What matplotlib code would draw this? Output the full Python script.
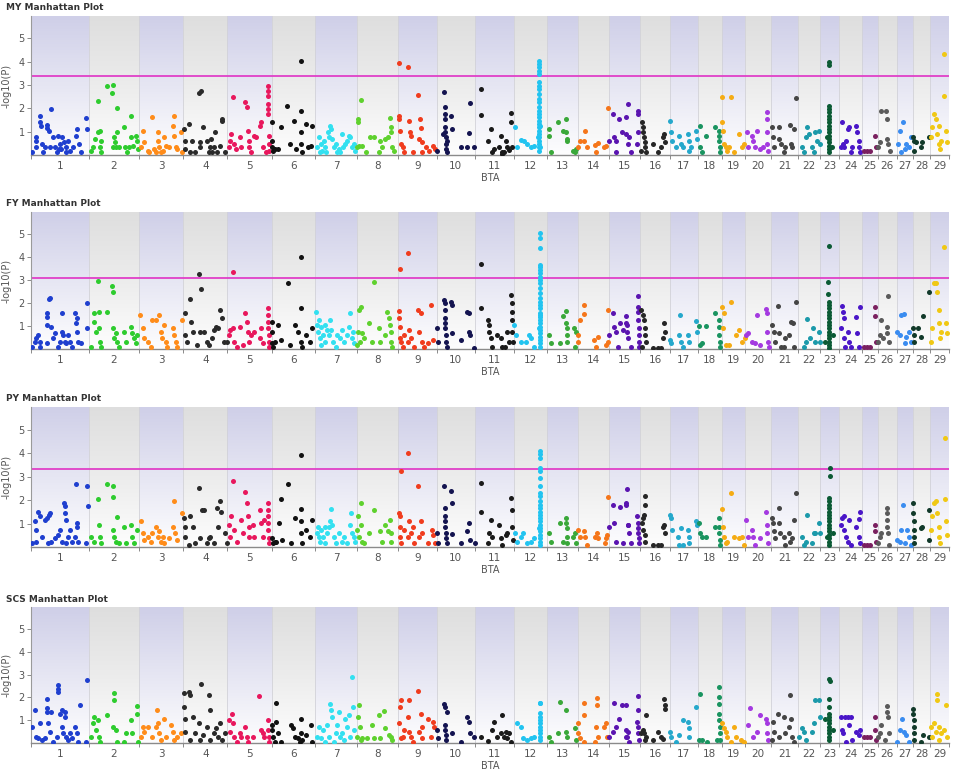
import numpy as np
import matplotlib
matplotlib.use("Agg")
import matplotlib.pyplot as plt
from matplotlib.colors import LinearSegmentedColormap

# chromosomes (BTA) and their lengths in Mb
bta = list(range(1, 30))
bta_len = [158.3, 137.1, 121.4, 120.7, 121.2, 119.5, 112.6, 113.4, 105.7, 104.3,
           107.3, 91.2, 84.2, 84.6, 85.3, 81.7, 75.2, 66.0, 64.1, 72.0,
           71.6, 61.4, 52.5, 62.7, 42.9, 51.7, 45.4, 46.3, 51.5]
bta_colors = ["#1f3fcf", "#2ecc2e", "#ff8c1a", "#2a2a2a", "#e8175d", "#111111",
              "#33e0f0", "#5fd12e", "#f03c1e", "#141450", "#1a1a1a", "#22c4f0",
              "#3aa83a", "#f5761a", "#5a14b0", "#262626", "#25a8cc", "#1a9460",
              "#f5ac14", "#a43ae0", "#454545", "#1c9aaa", "#0b5a35", "#4a16c8",
              "#7a2060", "#5a5a5a", "#3a8cf0", "#123a2a", "#f0c814"]

traits = ["MY", "FY", "PY", "SCS"]
thresholds = [3.4, 3.1, 3.3, None]

# (position in Mb, -log10(P)) per chromosome
my_pts = {
    1: [(2,.11),(14,.79),(14,.61),(15,.33),(25,1.69),(25,1.4),(26,1.26),(29,.47),(38,.33),(43,1.3),(45,1.16),(49,1.01),(52,.33),(56,1.97),(61,.76),(65,.33),(70,.11),(75,.83),(79,.47),(82,.26),(86,.76),(91,.54),(95,.33),(102,.61),(106,.19),(115,.33),(123,.83),(127,1.11),(132,.47),(136,.11),(150,1.59),(154,1.11),(34,.11),(77,.26),(97,.11)],
    2: [(5,.19),(10,.33),(16,.69),(24,2.33),(25,.97),(30,.33),(31,1.04),(33,.61),(49,2.97),(65,3.0),(63,2.64),(69,.76),(71,.54),(74,.33),(78,2.01),(76,.97),(83,.33),(95,1.19),(98,.33),(105,.11),(110,.33),(115,1.69),(116,.76),(122,.4),(128,.83),(133,.61),(135,.26),(33,.11),(67,.33)],
    3: [(5,.33),(10,1.04),(15,.54),(24,.19),(37,1.61),(42,.26),(46,.11),(51,.97),(53,.61),(55,.33),(60,.11),(69,.76),(74,.4),(83,.33),(92,1.26),(96,1.69),(95,.83),(101,.33),(105,.26),(115,.97),(117,.11),(28,.11),(65,.19)],
    4: [(3,1.11),(4,.61),(5,.26),(15,1.33),(19,.11),(24,.61),(33,.11),(42,2.64),(49,2.73),(45,.54),(55,1.19),(65,.61),(69,.11),(72,.33),(76,.69),(83,.33),(87,.97),(92,.11),(101,.4),(105,1.54),(105,1.44),(115,.11),(46,.33),(79,.11)],
    5: [(4,.33),(7,.61),(10,.9),(15,2.47),(19,.47),(24,.26),(33,.76),(37,.33),(48,2.26),(53,2.04),(55,1.04),(58,.61),(60,.33),(65,.11),(74,.83),(78,.76),(88,1.26),(92,1.4),(97,.33),(105,.11),(110,2.97),(110,2.76),(111,2.54),(111,2.19),(112,1.97),(112,1.76),(113,.83),(113,.47),(115,.19)],
    6: [(0.5,1.43),(2,.61),(2,.33),(4,.19),(8,.26),(17,.26),(26,1.19),(42,2.09),(49,.47),(60,1.44),(67,.26),(81,4.01),(81,1.9),(81,.97),(81,.47),(84,.11),(93,1.33),(99,.33),(108,.4),(111,1.26)],
    7: [(5,.33),(9,.76),(14,.47),(18,.19),(23,.61),(27,.33),(34,.97),(36,.76),(39,1.26),(43,1.11),(45,.69),(50,.33),(55,.47),(59,.11),(64,.26),(73,.9),(75,.33),(82,.47),(86,.61),(91,.83),(95,.76),(100,.33),(105,.47),(107,.19),(12,.11),(30,.11),(68,.11)],
    8: [(2,.33),(4,1.54),(4,1.4),(6,.4),(11,2.36),(15,.4),(25,.11),(38,.76),(47,.76),(61,.11),(65,.61),(70,.33),(79,.69),(85,.76),(91,1.59),(93,1.19),(95,.97),(97,.33),(102,.19)],
    9: [(4,3.93),(28,3.79),(4,1.69),(4,1.54),(5,1.04),(8,.47),(13,.33),(17,.11),(31,1.47),(34,.97),(35,.83),(40,.11),(54,2.59),(58,.69),(61,1.54),(63,1.16),(65,.54),(67,.11),(76,.33),(85,.19),(95,.4),(101,.26)],
    10: [(2,.19),(20,2.69),(22,2.04),(22,1.76),(23,1.54),(23,1.19),(24,.97),(25,.76),(25,.47),(26,.26),(27,.11),(40,1.69),(43,1.11),(67,.33),(84,.33),(88,.93),(91,2.21),(102,.33),(18,.9),(29,.61)],
    11: [(16,2.83),(16,1.71),(35,.61),(44,1.11),(48,.11),(53,.26),(66,.33),(71,.83),(74,.11),(75,.05),(80,.11),(85,.61),(89,.33),(94,.21),(98,1.79),(100,1.4),(103,.33)],
    12: [(4,1.21),(8,.33),(19,.64),(28,.61),(37,.47),(46,.33),(55,.4),
         (68,4.04),(68,3.9),(68,3.76),(68,3.61),(68,3.47),(68,3.11),(68,2.97),(69,2.83),(68,2.61),(69,2.4),(68,2.26),(69,2.04),(68,1.9),(69,1.76),(68,1.61),(69,1.47),(68,1.33),(69,1.19),(68,1.04),(69,.9),(68,.76),(69,.61),(68,.47),(69,.33),(68,.19),(71,1.26),(67,.76),(72,.33)],
    13: [(6,1.11),(6,.83),(9,.11),(29,1.4),(43,1.04),(52,1.54),(52,.97),(54,.69),(55,.61),(70,.19),(75,.11),(79,.26)],
    14: [(1,.33),(4,.61),(17,.61),(20,1.04),(25,.33),(45,.44),(49,.11),(54,.5),(72,.33),(76,.4),(83,2.01)],
    15: [(1,.61),(10,1.76),(15,.76),(19,.61),(28,1.54),(35,.97),(46,1.61),(51,2.19),(56,.76),(60,.11),(19,.11),(78,1.9),(78,1.76),(78,.97),(76,.47),(46,.9),(51,.47)],
    16: [(5,1.4),(7,1.19),(7,.97),(10,.76),(12,.54),(14,.33),(3,.19),(16,.11),(35,.47),(48,.11),(57,.33),(62,.76),(66,.9),(69,.54)],
    17: [(1,1.44),(3,.97),(5,.61),(16,.33),(25,.83),(30,.47),(35,.33),(48,.9),(51,.61),(53,.19),(57,.33),(71,1.04),(74,.69)],
    18: [(6,1.26),(8,.33),(13,.11),(22,.83),(49,1.19),(58,1.04),(60,.83),(60,.61),(61,.33),(61,.11)],
    19: [(0.5,2.47),(25,2.47),(2,1.4),(5,1.04),(6,.47),(11,.33),(15,.19),(20,.33),(34,.11),(47,.9),(56,.33),(61,.47)],
    20: [(5,.97),(9,.33),(18,.83),(21,.61),(27,.33),(32,1.04),(41,.26),(50,.33),(59,1.86),(59,1.54),(59,.97),(61,.47),(64,.19)],
    21: [(2,1.21),(5,.76),(6,.33),(20,1.21),(20,.69),(25,.47),(34,.11),(38,.33),(52,1.3),(54,.47),(56,.33),(61,1.11),(68,2.44)],
    22: [(13,.33),(17,.11),(22,.76),(26,1.21),(31,.9),(40,.33),(45,.11),(49,1.0),(54,.61),(58,1.04),(61,.47)],
    23: [(25,3.97),(25,3.87),(25,2.11),(25,1.97),(25,1.83),(25,1.69),(25,1.54),(25,1.4),(25,1.26),(25,1.11),(25,.97),(25,.83),(25,.69),(25,.54),(25,.4),(25,.26),(25,.11),(18,.76),(32,.33)],
    24: [(5,.33),(7,1.4),(11,.47),(14,.33),(18,.61),(23,1.11),(27,1.19),(32,.11),(36,.33),(47,1.26),(50,.97),(53,.61),(55,.33),(56,.11)],
    25: [(4,.19),(13,.19),(22,.19),(35,.83),(38,.33)],
    26: [(1,.33),(5,.54),(10,1.87),(22,1.87),(24,1.54),(25,.69),(28,.47),(33,.19)],
    27: [(4,.47),(8,1.04),(13,.11),(17,1.4),(22,.26),(26,.47),(35,.33),(40,.76)],
    28: [(0.5,.76),(3,.61),(3,.19),(7,.54),(21,.33),(25,.54),(44,.76)],
    29: [(2,.76),(6,1.19),(11,1.76),(15,1.54),(20,.9),(23,.47),(25,1.26),(26,.26),(29,.61),(38,2.54),(38,4.33),(43,1.04),(47,.54)],
}

fy_pts = {
    1: [(2,.1),(11,.32),(14,.46),(20,.61),(25,.32),(25,.1),(43,1.55),(43,1.41),(43,1.04),(45,.25),(50,2.17),(52,2.23),(56,.97),(61,.46),(65,.68),(75,.1),(79,.32),(84,.75),(84,1.55),(88,.61),(93,.32),(97,.25),(102,.61),(106,.32),(111,.1),(120,1.55),(123,1.12),(125,.75),(126,1.33),(129,.32),(138,.25),(152,1.99),(154,.9)],
    2: [(5,.1),(13,1.19),(15,1.55),(19,.75),(25,2.96),(28,1.62),(28,.9),(30,.32),(33,.1),(49,1.59),(63,2.75),(65,2.46),(65,.9),(69,.46),(74,.68),(78,.32),(83,.1),(96,.75),(101,.32),(115,.97),(119,.68),(124,.46),(128,.25),(133,.61)],
    3: [(4,1.48),(10,.9),(15,.46),(24,.32),(33,.1),(37,1.26),(46,1.26),(55,1.48),(60,.75),(63,.46),(69,1.04),(74,.32),(78,.1),(92,.9),(96,.61),(101,.32),(105,.1),(119,1.26)],
    4: [(4,1.55),(5,.61),(10,.32),(19,2.17),(22,1.19),(26,.75),(37,.17),(44,3.26),(49,2.61),(45,.75),(56,.75),(65,.32),(69,.17),(78,.46),(83,.83),(89,.97),(96,.9),(101,1.7),(105,1.36),(110,.32),(119,.32)],
    5: [(4,.61),(7,.83),(15,3.36),(15,.9),(19,.32),(26,.1),(33,.97),(42,.17),(49,1.55),(53,1.19),(55,.75),(58,.32),(65,.61),(74,.75),(88,.46),(92,.9),(97,.25),(110,1.77),(111,1.48),(111,1.19),(112,.9),(113,.61),(113,.32),(115,.1)],
    6: [(0.5,1.19),(0.5,.75),(2,.25),(4,.1),(8,.32),(17,1.04),(26,.39),(45,2.86),(51,.17),(63,1.04),(72,.75),(81,4.01),(81,1.8),(81,.32),(84,.1),(93,.61),(104,.32),(111,.9)],
    7: [(0.5,1.62),(3,1.04),(6,.75),(9,1.26),(12,.46),(14,.97),(15,.17),(21,.61),(25,1.04),(27,.32),(32,.83),(36,.61),(39,1.26),(43,.83),(48,.32),(55,.1),(59,.61),(68,.46),(73,.83),(77,.32),(86,.61),(91,.97),(95,1.55),(100,.46),(103,.75),(106,.25)],
    8: [(2,.17),(4,.75),(6,1.7),(9,.32),(13,1.84),(15,.68),(20,.46),(34,1.12),(43,.32),(47,2.9),(61,.93),(65,.32),(79,.61),(84,1.62),(88,1.33),(91,1.04),(93,.75),(95,.32),(98,.1)],
    9: [(6,3.48),(28,4.16),(4,1.65),(4,1.33),(5,.97),(5,.46),(8,.32),(13,.1),(17,.61),(26,.32),(31,.83),(35,.46),(45,.1),(54,1.7),(58,.75),(63,1.55),(67,.32),(72,.1),(81,.25),(90,1.91),(95,.39)],
    10: [(2,.9),(4,.32),(20,2.13),(22,1.99),(22,1.7),(23,1.33),(23,1.12),(24,.9),(25,.61),(26,.32),(27,.1),(40,2.06),(41,1.91),(43,.68),(67,.39),(84,1.62),(88,1.55),(88,.75),(91,.61),(102,.06)],
    11: [(16,3.68),(16,1.77),(36,1.26),(39,1.04),(39,.75),(44,.46),(48,.1),(62,.61),(71,.46),(75,.1),(82,.1),(89,.75),(94,.32),(100,2.35),(101,1.99),(102,1.62),(102,1.26),(103,.75),(104,.32)],
    12: [(1,1.04),(5,.61),(19,.32),(33,.32),(42,.61),(46,.46),(56,.1),
         (70,5.03),(70,4.81),(70,4.38),(70,3.65),(70,3.55),(70,3.43),(70,3.29),(70,3.14),(70,3.0),(70,2.86),(70,2.64),(70,2.42),(70,2.2),(70,2.06),(70,1.91),(70,1.77),(70,1.55),(70,1.41),(70,1.26),(70,1.12),(70,.97),(70,.83),(70,.68),(70,.54),(70,.39),(70,.25),(70,.1),(72,1.48),(68,.9)],
    13: [(6,.61),(9,.25),(34,.25),(43,1.45),(52,1.65),(52,1.12),(53,.9),(54,.61),(55,.32),(73,.9),(75,.1),(79,.75)],
    14: [(1,.61),(1,.32),(4,1.26),(15,1.91),(17,1.51),(43,.39),(49,.1),(54,.54),(76,.17),(81,1.7),(83,.32)],
    15: [(1,.61),(10,1.55),(15,.97),(19,.75),(24,.1),(31,1.12),(37,.83),(46,1.45),(49,1.04),(51,.46),(60,.1),(78,2.32),(80,1.84),(80,1.62),(80,1.26),(81,.9),(81,.61),(82,.32),(83,.1),(46,1.12),(49,.75)],
    16: [(3,1.7),(7,1.48),(10,1.26),(12,.9),(14,.61),(16,.32),(5,.1),(35,.06),(48,.06),(57,.06),(62,.46),(66,1.12),(69,.75)],
    17: [(1,.39),(3,.25),(25,.61),(28,1.48),(30,.32),(35,.1),(48,.61),(51,.32),(71,1.22),(74,.75)],
    18: [(4,1.01),(8,.17),(13,.25),(22,1.01),(49,1.55),(58,1.26),(60,.97),(60,.61),(61,.32),(61,.1)],
    19: [(2,1.84),(6,1.55),(25,2.03),(5,.9),(11,.17),(20,.17),(38,.61),(47,.83),(56,.32),(63,.46)],
    20: [(3,.61),(9,.68),(18,.32),(27,.25),(32,1.48),(41,.17),(57,1.74),(59,1.55),(61,.75),(64,.32),(66,.1)],
    21: [(2,1.04),(6,.75),(11,.32),(17,1.88),(20,.68),(25,.1),(34,.1),(38,.46),(47,.61),(54,1.19),(59,1.12),(61,.1),(68,2.03)],
    22: [(17,.1),(22,.32),(26,1.3),(35,.46),(43,.9),(49,.32),(58,.75),(61,.32)],
    23: [(25,4.49),(23,2.9),(23,2.38),(25,2.06),(25,1.91),(25,1.77),(25,1.62),(25,1.48),(25,1.33),(25,1.19),(25,1.04),(25,.9),(25,.75),(25,.61),(25,.46),(25,.32),(25,.17),(25,.06),(14,.32),(36,.61)],
    24: [(5,.9),(9,1.88),(11,1.62),(14,1.33),(14,.46),(16,.1),(23,.75),(27,.32),(32,.1),(47,1.41),(50,.68),(56,1.84),(55,.1)],
    25: [(4,.1),(13,.1),(22,.1),(35,1.84),(35,1.45),(38,.32)],
    26: [(1,.32),(5,.61),(10,1.26),(15,.46),(24,.97),(28,2.32),(25,.68),(31,.32)],
    27: [(1,.75),(8,.61),(13,1.48),(19,1.51),(22,.25),(26,.54),(34,.75),(38,.32)],
    28: [(0.5,.9),(3,.32),(3,.61),(12,.9),(21,.54),(27,1.45),(44,2.49)],
    29: [(2,.32),(6,.9),(11,2.86),(15,2.86),(20,2.49),(23,1.7),(25,1.12),(26,.46),(29,.75),(38,4.45),(43,1.12),(47,.68)],
}

py_pts = {
    1: [(2,.16),(11,1.09),(14,.73),(15,.23),(20,1.51),(25,1.3),(29,.44),(38,1.16),(43,1.23),(50,1.37),(52,1.44),(47,.16),(56,.23),(65,.37),(75,.51),(79,.73),(84,.23),(90,1.87),(93,1.73),(93,1.44),(95,1.16),(97,.16),(102,.44),(106,.73),(111,.23),(120,.44),(125,1.01),(127,.87),(123,2.7),(129,.23),(154,2.59),(156,1.73),(150,.16)],
    2: [(7,.44),(15,.23),(24,2.04),(28,.94),(30,.44),(33,.16),(49,2.7),(65,2.61),(67,2.13),(65,.73),(69,.44),(74,.23),(78,1.27),(83,.16),(96,.87),(101,.16),(115,.94),(119,.44),(124,.16),(133,.73)],
    3: [(5,1.09),(10,.59),(15,.3),(24,.44),(33,.23),(37,.59),(46,.87),(51,.44),(55,.66),(60,.23),(65,.44),(69,.16),(83,.37),(92,.87),(96,1.94),(98,.59),(105,.3),(119,1.44)],
    4: [(3,1.23),(4,.87),(5,.44),(15,.09),(19,1.3),(26,.87),(33,.16),(44,2.51),(46,.37),(51,1.59),(57,1.59),(65,.16),(69,.37),(74,.44),(83,.16),(92,1.66),(96,.87),(101,1.94),(103,1.51),(115,.59),(119,.16)],
    5: [(4,.94),(7,.44),(10,1.3),(15,2.8),(19,.73),(26,.23),(37,1.16),(42,.59),(49,2.33),(53,1.87),(55,1.3),(58,.87),(60,.44),(69,.94),(74,.44),(88,1.59),(92,1.01),(97,.44),(101,1.16),(110,1.87),(111,1.59),(111,1.3),(112,1.01),(112,.73),(113,.37),(115,.16)],
    6: [(2,.37),(4,.16),(8,.23),(13,.23),(20,1.04),(26,2.04),(29,.3),(45,2.7),(54,.16),(63,1.23),(81,3.9),(81,1.61),(81,1.09),(81,.59),(84,.16),(93,.73),(104,.44),(111,1.16)],
    7: [(3,.59),(6,.87),(9,.44),(12,.23),(15,.73),(21,.44),(25,.87),(27,.16),(32,.59),(36,.87),(39,1.09),(43,1.61),(45,.94),(50,.44),(57,.16),(64,.59),(73,.23),(77,.44),(86,.16),(94,.94),(97,1.44),(100,.59),(105,.44),(107,.23)],
    8: [(2,.73),(4,1.3),(6,.44),(11,1.87),(13,.94),(15,.23),(20,.16),(34,.59),(47,1.56),(65,.66),(70,.23),(79,.94),(85,.66),(91,1.16),(93,.59),(95,.23)],
    9: [(8,3.23),(28,3.99),(4,1.44),(5,1.3),(5,.87),(6,.44),(8,.16),(17,.73),(26,.44),(31,1.09),(35,.59),(40,.87),(45,.16),(54,2.59),(58,.44),(63,1.09),(67,.59),(81,.16),(92,.73),(95,.51),(101,.16)],
    10: [(2,.59),(4,.16),(20,2.61),(22,1.66),(23,1.33),(23,1.09),(24,.87),(25,.59),(26,.37),(27,.16),(40,2.37),(42,1.87),(43,.56),(67,.16),(84,.66),(88,1.04),(91,.3),(104,.16)],
    11: [(16,2.73),(16,1.51),(35,.16),(39,.59),(44,1.16),(48,.44),(66,.94),(71,.37),(75,.09),(85,.51),(89,.59),(100,2.09),(101,1.59),(103,.87),(104,.3)],
    12: [(3,.59),(8,.23),(19,.44),(24,.59),(37,.16),(46,.23),(55,.37),
         (70,4.09),(70,3.94),(71,3.8),(70,3.37),(71,3.23),(70,2.94),(70,2.59),(71,2.3),(70,2.16),(70,1.94),(71,1.8),(70,1.66),(70,1.51),(71,1.37),(70,1.23),(70,1.09),(71,.94),(70,.8),(70,.66),(71,.51),(70,.37),(70,.23),(70,.09),(68,.8)],
    13: [(6,.59),(9,.23),(34,1.04),(43,.23),(52,1.23),(52,1.01),(53,.8),(54,.44),(55,.16),(70,.44),(75,.59),(79,.16)],
    14: [(1,.73),(4,.44),(17,.66),(20,.44),(25,.09),(45,.44),(52,.59),(54,.37),(74,.16),(76,.37),(81,2.13),(79,.51)],
    15: [(1,.87),(10,1.8),(15,1.01),(19,.23),(31,1.7),(37,.16),(46,1.87),(49,2.47),(51,.94),(56,.59),(60,.16),(76,1.3),(78,1.01),(80,.8),(80,.59),(81,.37),(82,.16),(46,1.8),(51,.94)],
    16: [(14,2.19),(14,1.8),(10,1.37),(7,1.23),(5,1.01),(7,.73),(12,.51),(14,.23),(35,.09),(48,.09),(57,.09),(62,.87),(66,.94),(69,.59)],
    17: [(1,1.37),(3,1.23),(5,.73),(21,.44),(25,.09),(30,.8),(35,.09),(48,.73),(51,.44),(53,.16),(71,1.09),(74,.94)],
    18: [(4,1.04),(8,.59),(13,.44),(22,.44),(49,.87),(58,1.23),(60,.87),(60,.59),(61,.3),(61,.09)],
    19: [(2,1.61),(25,2.3),(5,.87),(6,.44),(11,.16),(15,.23),(34,.44),(47,.37),(56,.44),(61,.09)],
    20: [(3,1.16),(9,.44),(18,.73),(23,.44),(27,.09),(41,.37),(57,1.47),(59,.94),(61,.59),(64,.16)],
    21: [(2,1.23),(5,1.01),(6,.66),(11,.37),(20,1.66),(20,1.01),(23,.59),(34,.44),(38,.09),(47,.59),(52,.23),(56,.37),(61,1.16),(68,2.3)],
    22: [(13,.44),(17,.09),(22,.23),(26,1.37),(40,.16),(45,.59),(49,.59),(58,1.01),(61,.59)],
    23: [(27,3.37),(27,3.04),(25,2.09),(25,1.94),(25,1.8),(25,1.66),(25,1.51),(25,1.37),(25,1.23),(25,1.09),(25,.94),(25,.8),(25,.66),(25,.51),(25,.37),(25,.23),(25,.09),(18,.44),(36,.59)],
    24: [(5,.94),(9,1.23),(14,1.3),(14,.73),(18,.44),(23,.23),(27,1.16),(32,.09),(47,.87),(53,1.19),(56,1.47),(55,.44),(56,.16)],
    25: [(4,.09),(13,.09),(22,.09),(35,.94),(35,.66),(38,.23)],
    26: [(1,.16),(5,.44),(10,.59),(24,1.66),(24,1.44),(25,1.16),(26,.87),(28,.59),(31,.09)],
    27: [(1,.3),(8,.23),(13,.73),(17,1.8),(22,.16),(28,.73),(34,.44),(38,.09)],
    28: [(0.5,1.87),(0.5,1.44),(1,1.09),(1,.73),(2,.44),(2,.16),(21,.8),(25,.87),(44,1.56),(44,.3)],
    29: [(2,.73),(6,1.3),(11,1.87),(15,1.94),(20,1.44),(23,.87),(25,.44),(26,.16),(41,2.04),(41,4.66),(43,1.09),(47,.51)],
}

scs_pts = {
    1: [(2,.71),(11,1.43),(15,.28),(20,.2),(25,.86),(29,.13),(38,.2),(43,1.94),(43,1.55),(45,1.36),(47,.86),(52,.49),(56,1.36),(61,.06),(70,.28),(75,2.52),(75,2.38),(75,2.23),(79,1.29),(84,1.43),(84,.71),(88,.42),(93,1.36),(93,1.14),(97,.28),(102,.13),(106,.42),(111,.2),(120,.71),(125,.42),(129,.06),(135,1.65),(150,.06),(154,2.74)],
    2: [(7,.28),(10,.86),(15,1.14),(19,.57),(25,1.0),(28,.28),(30,.06),(49,1.22),(69,2.19),(69,1.87),(67,.71),(74,.57),(78,.06),(96,.06),(101,.42),(115,1.0),(119,.42),(131,1.61),(133,1.29),(135,.06)],
    3: [(5,.28),(10,.71),(15,.49),(24,.71),(37,.28),(46,.71),(49,1.43),(51,.86),(55,.42),(60,.13),(69,1.07),(74,.28),(87,.78),(92,.49),(96,.13),(105,.28),(115,.42)],
    4: [(1,1.58),(3,2.19),(4,1.07),(5,.49),(15,2.23),(17,2.09),(19,.13),(26,1.14),(33,.42),(42,.86),(49,2.59),(46,.13),(55,.35),(65,.71),(69,2.09),(72,1.46),(74,.13),(83,.42),(89,.64),(96,.28),(101,.86),(105,.13),(115,.42)],
    5: [(4,1.0),(7,.49),(13,1.29),(15,.86),(19,.28),(26,.06),(33,.42),(37,.28),(49,.71),(53,.28),(55,.06),(69,.28),(86,2.04),(92,.57),(97,.42),(101,.28),(110,1.0),(111,.57),(113,.28),(115,.06)],
    6: [(0.5,.78),(2,.57),(4,.28),(8,.06),(13,.93),(13,1.75),(17,.42),(26,.06),(54,.78),(59,.64),(63,.28),(72,.2),(76,.06),(81,1.07),(81,.42),(84,.13),(95,.35),(108,.78),(111,.06)],
    7: [(5,.28),(9,.71),(14,.2),(21,.57),(27,.06),(32,.78),(36,.28),(41,1.72),(43,1.43),(45,1.14),(50,.06),(55,.42),(59,.78),(64,1.36),(68,.28),(73,.42),(77,.13),(82,1.07),(86,.71),(91,1.22),(95,.28),(100,2.88),(103,1.58),(105,.57)],
    8: [(2,.28),(4,1.14),(6,1.65),(9,.71),(11,.13),(15,.2),(29,.2),(43,.78),(47,.2),(61,1.22),(65,.2),(75,1.41),(79,.64),(88,.35),(93,.28),(98,.13)],
    9: [(4,.86),(6,1.58),(8,1.9),(8,.2),(13,.28),(17,.57),(26,1.14),(31,1.9),(31,.49),(35,.28),(40,.06),(54,2.28),(58,.49),(63,1.26),(65,.71),(67,.2),(81,1.07),(90,.28),(95,.93),(99,.71)],
    10: [(2,.57),(4,.2),(20,1.72),(22,1.58),(23,.78),(24,.57),(25,.35),(26,.13),(29,1.36),(43,.42),(66,.06),(84,1.14),(88,.93),(91,.42),(102,.28)],
    11: [(16,.28),(35,.1),(48,.57),(53,.93),(62,.28),(71,.42),(75,1.22),(80,.28),(85,.49),(89,.2),(94,.42),(98,.06)],
    12: [(8,.86),(19,.71),(24,.2),(37,.13),(46,.2),(55,.28),
         (70,1.75),(71,1.75),(70,1.32),(70,1.14),(70,1.0),(70,.86),(70,.71),(70,.57),(70,.42),(70,.28),(70,.13)],
    13: [(6,.28),(9,.06),(29,.42),(36,1.8),(52,1.46),(52,.49),(53,.28),(75,.64),(79,.13)],
    14: [(1,.86),(1,.42),(4,.2),(15,1.75),(15,1.22),(17,.06),(45,.06),(49,.71),(52,1.99),(52,1.65),(54,.28),(72,.71),(76,.86),(79,.28)],
    15: [(1,.28),(10,.49),(15,1.75),(19,.71),(28,1.07),(35,1.65),(46,.57),(49,.28),(56,.06),(78,2.04),(78,1.43),(76,.93),(80,.71),(80,.42),(82,.13),(46,1.65),(51,.49),(46,.28)],
    16: [(3,.42),(7,.57),(10,.42),(14,.13),(16,1.22),(16,.28),(35,.13),(48,.49),(57,.28),(62,.16),(66,1.94),(68,1.65),(69,1.51)],
    17: [(1,.49),(3,.28),(16,.06),(25,.35),(35,1.0),(48,.93),(51,.64),(53,.28),(71,1.58)],
    18: [(6,2.16),(4,.13),(13,.13),(26,.06),(54,.13),(58,2.45),(59,2.01),(59,1.72),(60,1.29),(60,1.0),(61,.71),(61,.42),(61,.13)],
    19: [(2,.86),(6,.64),(11,.49),(15,.28),(25,.06),(34,.71),(38,.28),(52,.13),(61,.06)],
    20: [(9,.78),(14,1.55),(23,.28),(32,.49),(41,1.22),(57,1.03),(59,.86),(61,.42),(64,.13)],
    21: [(2,.13),(5,.93),(6,.49),(17,1.29),(20,.28),(34,1.14),(38,.42),(47,.71),(52,2.09),(54,1.07),(56,.28),(61,.06)],
    22: [(4,.28),(13,.64),(17,.49),(22,.13),(40,.49),(45,.86),(49,1.9),(58,1.9),(61,1.14)],
    23: [(25,2.81),(27,2.71),(25,1.94),(25,1.58),(25,1.29),(25,1.14),(25,1.0),(25,.86),(25,.71),(25,.57),(25,.42),(25,.28),(25,.13),(14,1.07),(36,.57)],
    24: [(5,1.14),(7,.57),(11,.42),(16,1.14),(18,.06),(23,1.14),(27,.78),(32,1.14),(36,.13),(47,.49),(53,.35),(56,.57)],
    25: [(4,.28),(13,.28),(22,.28),(35,1.14),(35,.57),(38,.13)],
    26: [(1,.28),(5,.42),(10,.78),(24,1.61),(25,1.36),(28,1.14),(31,.42),(19,.13)],
    27: [(1,.06),(8,.57),(15,1.07),(19,.49),(26,.35),(34,.06)],
    28: [(0.5,1.51),(0.5,1.29),(1,1.0),(1,.71),(2,.42),(2,.13),(21,.06),(27,.35),(44,.28)],
    29: [(2,.71),(6,.28),(11,.86),(15,.49),(20,2.13),(20,1.87),(23,.71),(25,.13),(29,.42),(38,.59),(44,1.65),(47,.28)],
}

all_pts = [my_pts, fy_pts, py_pts, scs_pts]

starts = np.concatenate([[0], np.cumsum(bta_len)[:-1]])
ends = starts + np.array(bta_len)
centers = starts + np.array(bta_len) / 2
total = float(np.sum(bta_len))

W, H = 958, 776
fig = plt.figure(figsize=(W / 100, H / 100), dpi=100)

# pixel rows of each panel (top, bottom)
rows = [(16, 155), (212, 349), (407, 547), (607, 743)]
ymax = 5.96

lav = LinearSegmentedColormap.from_list("lav", ["#fdfdfe", "#e6e6f3", "#cfcfe8"])
gry = LinearSegmentedColormap.from_list("gry", ["#fdfdfd", "#ececec", "#dedede"])
grad = np.linspace(0, 1, 200).reshape(-1, 1)

for k, trait in enumerate(traits):
    top, bot = rows[k]
    ax = fig.add_axes([31 / W, 1 - bot / H, 918 / W, (bot - top) / H])
    pts = all_pts[k]

    for i, c in enumerate(bta):
        cmap = lav if c % 2 == 1 else gry
        ax.imshow(grad, extent=[starts[i], ends[i], 0, ymax], origin="lower",
                  cmap=cmap, aspect="auto", zorder=0, interpolation="bilinear")
        ax.axvline(starts[i], color="#d2d2d8", lw=0.6, zorder=1)

        xy = np.array(pts[c], dtype=float)
        ax.scatter(starts[i] + xy[:, 0], xy[:, 1], s=13, color=bta_colors[i],
                   linewidths=0, zorder=3)

    if thresholds[k] is not None:
        ax.axhline(thresholds[k], color="#e040c8", lw=1.3, zorder=2)

    ax.set_xlim(0, total)
    ax.set_ylim(0, ymax)

    for s in ["top", "right"]:
        ax.spines[s].set_visible(False)
    ax.spines["left"].set_color("#9a9a9a")
    ax.spines["left"].set_linewidth(0.8)
    ax.spines["bottom"].set_color("#8a8a8a")
    ax.spines["bottom"].set_linewidth(1.0)

    ax.set_yticks([1, 2, 3, 4, 5])
    ax.tick_params(axis="y", length=3, width=0.7, color="#8a8a8a",
                   labelsize=7, labelcolor="#555555", pad=1.5)
    ax.set_xticks(list(starts) + [total])
    ax.set_xticklabels([])
    ax.set_xticks(centers, minor=True)
    ax.set_xticklabels([str(c) for c in bta], minor=True)
    ax.tick_params(axis="x", which="major", length=3, width=0.7, color="#8a8a8a")
    ax.tick_params(axis="x", which="minor", length=0, labelsize=7.5,
                   labelcolor="#555555", pad=4)

    ax.set_ylabel("-log10(P)", fontsize=7, color="#555555")
    ax.yaxis.set_label_coords(-0.021, 0.5)
    ax.set_xlabel("BTA", fontsize=7, color="#555555", labelpad=2)

    fig.text(6 / W, 1 - (top - 8) / H, trait + " Manhattan Plot", fontsize=6.5,
             fontweight="bold", color="#333333", ha="left", va="center")

fig.savefig("out.png", dpi=100)
